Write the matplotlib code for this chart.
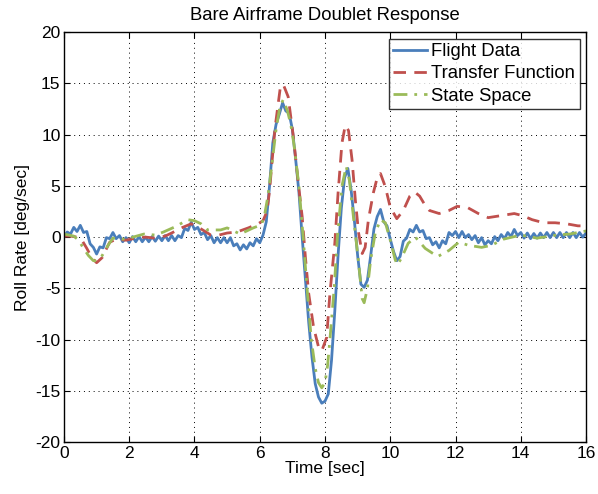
import numpy as np
import matplotlib
matplotlib.use("Agg")
import matplotlib.pyplot as plt

plt.rcParams['font.family'] = ['Liberation Sans', 'DejaVu Sans']
plt.rcParams['axes.unicode_minus'] = False

title = "Bare Airframe Doublet Response"
xlabel = "Time [sec]"
ylabel = "Roll Rate [deg/sec]"
series_names = ["Flight Data", "Transfer Function", "State Space"]
xticks = [0, 2, 4, 6, 8, 10, 12, 14, 16]
yticks = [-20, -15, -10, -5, 0, 5, 10, 15, 20]

# Flight data sampled every 0.1 s from 0 to 16 s
flight_t = np.round(np.arange(161) * 0.1, 1)
flight_y = [
    0.0, 0.5, 0.3, 0.95, 0.55, 1.15, 0.45, 0.55, -0.65, -1.0,
    -1.65, -0.95, -1.05, -0.05, -0.15, 0.45, -0.15, 0.15, -0.45, -0.05,
    -0.55, 0.05, -0.45, 0.05, -0.45, 0.0, -0.45, 0.05, -0.4, 0.1,
    -0.35, 0.15, -0.35, 0.15, -0.35, 0.15, -0.05, 0.85, 0.65, 1.45,
    0.75, 0.95, 0.25, 0.45, -0.25, 0.15, -0.55, -0.05, -0.55, -0.05,
    -0.55, -0.05, -0.85, -0.65, -1.25, -0.75, -1.15, -0.55, -0.85, -0.15,
    -0.55, 0.2, 1.5, 5.0, 9.2, 11.0, 12.0, 13.1, 12.3, 12.1,
    10.5, 7.6, 4.4, 0.0, -4.2, -8.3, -11.7, -14.3, -15.6, -16.2,
    -16.0, -15.3, -12.0, -7.2, -1.8, 2.8, 5.8, 6.7, 4.6, 1.6,
    -1.8, -4.6, -4.9, -4.2, -1.8, 0.8, 2.0, 2.7, 1.5, 1.1,
    -0.2, -1.4, -2.3, -1.9, -0.4, -0.1, 0.75, 0.5, 1.15, 0.5,
    0.65, -0.15, -0.05, -0.75, -0.45, -1.05, -0.35, -0.65, 0.45, 0.15,
    0.55, -0.05, 0.55, -0.05, 0.25, -0.25, 0.15, -0.55, -0.05, -0.75,
    -0.35, -0.65, 0.05, -0.35, 0.25, -0.15, 0.45, 0.05, 0.75, 0.15,
    0.45, -0.1, 0.4, -0.15, 0.35, -0.1, 0.4, -0.05, 0.45, -0.05,
    0.45, -0.05, 0.45, -0.05, 0.45, -0.05, 0.45, -0.05, 0.45, 0.0,
    0.4,
]

tf_t = [0, 0.2, 0.4, 0.55, 0.7, 0.85, 1.0, 1.17, 1.4, 1.6, 1.9, 2.2, 2.5, 2.8,
        3.1, 3.3, 3.6, 3.9, 4.2, 4.5, 4.75, 5.0, 5.3, 5.65, 5.95, 6.1, 6.22,
        6.3, 6.38, 6.47, 6.63, 6.72, 6.87, 7.03, 7.18, 7.3, 7.4, 7.5, 7.65,
        7.8, 7.9, 8.05, 8.15, 8.3, 8.4, 8.52, 8.62, 8.72, 8.83, 8.93, 9.03,
        9.14, 9.23, 9.33, 9.48, 9.6, 9.7, 9.85, 10.0, 10.2, 10.4, 10.6,
        10.75, 10.9, 11.05, 11.2, 11.5, 11.8, 12.05, 12.36, 12.7, 13.0,
        13.4, 13.8, 14.05, 14.35, 14.7, 15.05, 15.4, 15.75, 16.0]
tf_y = [0.1, 0.1, 0.0, -0.3, -1.1, -2.0, -2.5, -2.0, -0.5, -0.2, -0.3, -0.1,
        0.0, -0.1, 0.1, 0.4, 0.9, 1.3, 0.8, 0.2, 0.2, 0.4, 0.5, 0.9, 1.3, 1.6,
        2.5, 4.5, 7.5, 10.7, 14.6, 14.9, 13.7, 9.8, 5.3, 2.0, -2.0, -5.5,
        -8.8, -10.7, -11.1, -9.8, -5.5, -0.6, 4.3, 9.2, 10.9, 10.4, 7.5, 3.6,
        0.4, -1.6, -1.0, 1.7, 4.3, 5.8, 6.2, 4.9, 2.9, 1.8, 2.6, 4.0, 4.4,
        4.0, 3.2, 2.6, 2.3, 2.6, 3.0, 2.9, 2.3, 1.9, 2.1, 2.3, 2.1, 1.7, 1.4,
        1.4, 1.3, 1.1, 1.1]

ss_t = [0, 0.3, 0.45, 0.6, 0.75, 0.9, 1.0, 1.17, 1.35, 1.5, 1.8, 2.0, 2.45,
        2.8, 3.05, 3.4, 3.8, 4.0, 4.2, 4.4, 4.8, 5.0, 5.4, 5.8, 6.05, 6.15,
        6.25, 6.35, 6.5, 6.62, 6.72, 6.85, 6.95, 7.05, 7.2, 7.33, 7.45, 7.58,
        7.7, 7.8, 7.9, 8.0, 8.08, 8.15, 8.28, 8.38, 8.52, 8.65, 8.75, 8.87,
        9.02, 9.14, 9.2, 9.3, 9.4, 9.54, 9.7, 9.85, 10.0, 10.15, 10.22,
        10.35, 10.55, 10.77, 11.07, 11.45, 11.8, 12.1, 12.4, 12.8, 13.1,
        13.47, 14.0, 14.5, 15.1, 15.5, 16.0]
ss_y = [0.3, 0.1, -0.3, -1.1, -1.8, -2.3, -2.3, -1.8, -0.8, -0.1, -0.2, -0.1,
        0.3, 0.2, 0.5, 1.0, 1.7, 1.6, 1.3, 0.7, 0.7, 0.9, 0.3, 0.9, 1.2, 2.2,
        4.0, 6.5, 10.5, 12.8, 13.4, 12.3, 11.0, 9.0, 5.0, 0.0, -5.0, -10.0,
        -12.8, -14.2, -14.7, -14.2, -12.5, -10.0, -5.0, 0.0, 5.0, 6.9, 5.5,
        2.0, -2.2, -6.0, -6.4, -5.0, -2.2, 0.4, 1.7, 1.4, -0.3, -2.2, -2.7,
        -2.0, -0.6, 0.0, -1.1, -1.9, -1.3, -0.5, -0.8, -1.0, -0.8, -0.2, 0.2,
        -0.1, 0.2, 0.3, 0.6]

fig = plt.figure(figsize=(5.98, 4.94), dpi=100)
ax = fig.add_axes([0.107, 0.105, 0.873, 0.830])

ax.plot(flight_t, flight_y, color='#4a7ebb', lw=2.0, label=series_names[0])
ax.plot(tf_t, tf_y, color='#c0504d', lw=2.0, ls=(0, (4.5, 3)), label=series_names[1])
ax.plot(ss_t, ss_y, color='#9bbb59', lw=2.0, ls=(0, (5, 2.5, 1, 2.5)), label=series_names[2])

ax.set_xlim(0, 16)
ax.set_ylim(-20, 20)
ax.set_xticks(xticks)
ax.set_yticks(yticks)
ax.tick_params(direction='in', top=True, right=True, labelsize=12.5, length=4, width=0.8, pad=2.5)
ax.grid(True, color='black', ls=(0, (1, 4)), lw=0.7)
for s in ax.spines.values():
    s.set_linewidth(1.0)

ax.set_title(title, fontsize=13.3, pad=9)
ax.set_xlabel(xlabel, fontsize=12.5, labelpad=0)
ax.set_ylabel(ylabel, fontsize=12.5, labelpad=4)

leg = ax.legend(loc='upper right', fontsize=13.3, frameon=True, fancybox=False,
                borderpad=0.25, labelspacing=0.28, handlelength=1.85, handletextpad=0.2,
                borderaxespad=0.35)
leg.get_frame().set_edgecolor('black')
leg.get_frame().set_linewidth(1.0)

fig.savefig("out.png", dpi=100)
